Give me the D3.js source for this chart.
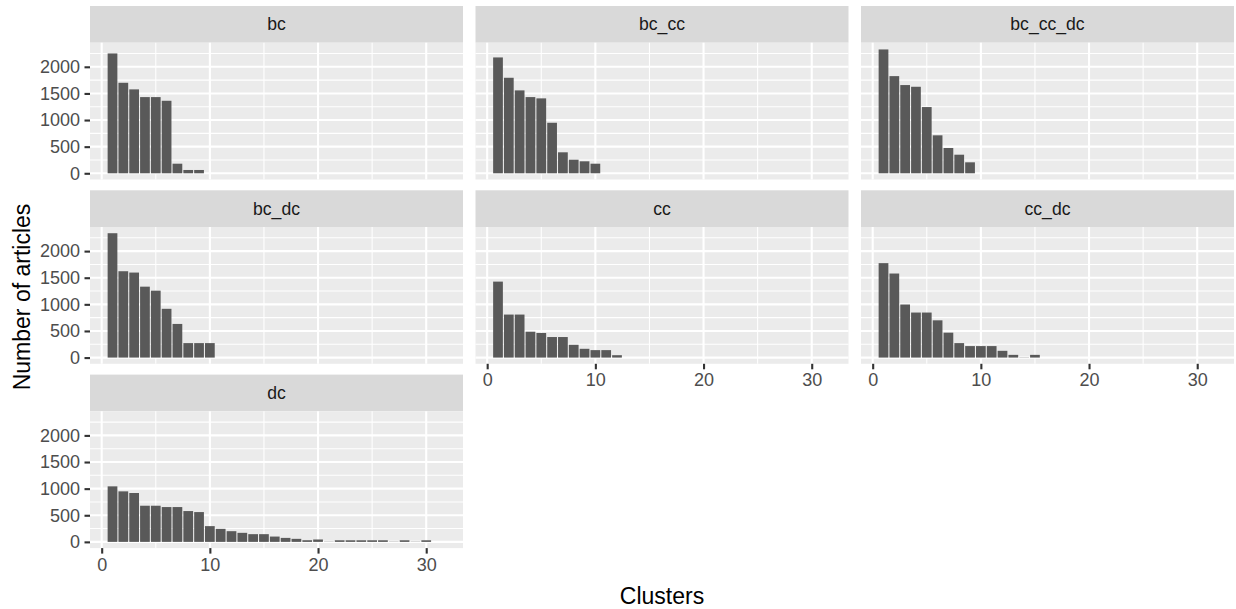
<!DOCTYPE html>
<html>
<head>
<meta charset="utf-8">
<script src="https://cdn.jsdelivr.net/npm/d3@7"></script>
<style>
  html, body { margin: 0; padding: 0; background: #ffffff; }
  svg { display: block; }
  text { font-family: "Liberation Sans", Arial, sans-serif; }
</style>
</head>
<body>
<svg id="chart" width="1236" height="609"></svg>
<script>
// Facet names, in layout order (three per row)
const facetNames = ["bc", "bc_cc", "bc_cc_dc", "bc_dc", "cc", "cc_dc", "dc"];

// Number of articles per cluster (cluster 1, 2, 3, ...) for each method
const bcCounts      = [2251, 1700, 1576, 1431, 1431, 1362, 180, 62, 62];
const bcCcCounts    = [2176, 1794, 1557, 1431, 1407, 949, 394, 255, 225, 180];
const bcCcDcCounts  = [2326, 1825, 1657, 1625, 1244, 713, 475, 349, 206];
const bcDcCounts    = [2336, 1622, 1597, 1332, 1257, 916, 632, 272, 272, 272];
const ccCounts      = [1427, 808, 808, 486, 462, 386, 386, 240, 165, 140, 140, 45];
const ccDcCounts    = [1774, 1579, 997, 846, 846, 700, 468, 272, 216, 216, 216, 127, 51, 4, 51];
const dcCounts      = [1043, 949, 918, 679, 679, 654, 654, 579, 560, 296, 245, 201, 170, 145, 145,
                       100, 75, 57, 31, 45, 4, 30, 30, 30, 30, 30, 4, 30, 4, 30];

// Axis breaks
const xMajorTicks = [0, 10, 20, 30];
const xMinorTicks = [5, 15, 25];
const yMajorTicks = [0, 500, 1000, 1500, 2000];
const yMinorTicks = [250, 750, 1250, 1750, 2250];
const xLimits = [-1.08, 33.4];

const facetCounts = [bcCounts, bcCcCounts, bcCcDcCounts, bcDcCounts, ccCounts, ccDcCounts, dcCounts];

const facets = facetNames.map((name, i) => ({
  name,
  bars: facetCounts[i].map((n, k) => ({ cluster: k + 1, n }))
}));

// Layout
const nCols = 3;
const panelLeft = [90, 475.5, 861];
const panelW = 373;
const stripTop0 = 6, stripH = 36.7, panelH = 136.8, rowGap = 10.8;
const rowPitch = stripH + panelH + rowGap;

const svg = d3.select("#chart");

const yMax = d3.max(facetCounts.flat());
const y = d3.scaleLinear()
  .domain([-0.05 * yMax, 1.05 * yMax])
  .range([panelH, 0]);
const x = d3.scaleLinear()
  .domain(xLimits)
  .range([0, panelW]);

const barWidth = 0.9;
const tickFont = 18;

facets.forEach((f, i) => {
  const col = i % nCols, row = Math.floor(i / nCols);
  const top = stripTop0 + row * rowPitch;
  const g = svg.append("g").attr("transform", `translate(${panelLeft[col]},${top})`);

  // strip
  g.append("rect").attr("width", panelW).attr("height", stripH).attr("fill", "#D9D9D9");
  g.append("text")
    .attr("x", panelW / 2).attr("y", stripH / 2)
    .attr("text-anchor", "middle").attr("dominant-baseline", "central")
    .attr("font-size", 17.6).attr("fill", "#1A1A1A")
    .text(f.name);

  const p = g.append("g").attr("transform", `translate(0,${stripH})`);
  p.append("rect").attr("width", panelW).attr("height", panelH).attr("fill", "#EBEBEB");

  // grid
  p.selectAll(".ymin").data(yMinorTicks).join("line")
    .attr("x1", 0).attr("x2", panelW).attr("y1", d => y(d)).attr("y2", d => y(d))
    .attr("stroke", "#ffffff").attr("stroke-width", 1.07);
  p.selectAll(".xmin").data(xMinorTicks).join("line")
    .attr("y1", 0).attr("y2", panelH).attr("x1", d => x(d)).attr("x2", d => x(d))
    .attr("stroke", "#ffffff").attr("stroke-width", 1.07);
  p.selectAll(".ymaj").data(yMajorTicks).join("line")
    .attr("x1", 0).attr("x2", panelW).attr("y1", d => y(d)).attr("y2", d => y(d))
    .attr("stroke", "#ffffff").attr("stroke-width", 2.1);
  p.selectAll(".xmaj").data(xMajorTicks).join("line")
    .attr("y1", 0).attr("y2", panelH).attr("x1", d => x(d)).attr("x2", d => x(d))
    .attr("stroke", "#ffffff").attr("stroke-width", 2.1);

  // bars
  p.selectAll(".bar").data(f.bars).join("rect")
    .attr("x", d => x(d.cluster - barWidth / 2))
    .attr("width", d => x(d.cluster + barWidth / 2) - x(d.cluster - barWidth / 2))
    .attr("y", d => y(d.n))
    .attr("height", d => y(0) - y(d.n))
    .attr("fill", "#595959");

  // y axis on first column
  if (col === 0) {
    const ya = p.append("g").call(d3.axisLeft(y).tickValues(yMajorTicks).tickSize(5.5).tickPadding(4.4).tickFormat(d3.format("d")));
    ya.select(".domain").remove();
    ya.selectAll("line").attr("stroke", "#333333").attr("stroke-width", 2.1);
    ya.selectAll("text").attr("font-size", tickFont).attr("fill", "#4D4D4D")
      .attr("font-family", "Liberation Sans, Arial, sans-serif");
  }

  // x axis where nothing sits below the panel
  const below = i + nCols;
  if (below >= facets.length) {
    const xa = p.append("g").attr("transform", `translate(0,${panelH})`)
      .call(d3.axisBottom(x).tickValues(xMajorTicks).tickSize(5.5).tickPadding(4.4).tickFormat(d3.format("d")));
    xa.select(".domain").remove();
    xa.selectAll("line").attr("stroke", "#333333").attr("stroke-width", 2.1);
    xa.selectAll("text").attr("font-size", tickFont).attr("fill", "#4D4D4D")
      .attr("font-family", "Liberation Sans, Arial, sans-serif");
  }
});

// axis titles
svg.append("text")
  .attr("transform", "translate(22,297) rotate(-90)")
  .attr("text-anchor", "middle").attr("dominant-baseline", "central")
  .attr("font-size", 23).attr("fill", "#000000")
  .text("Number of articles");
svg.append("text")
  .attr("x", (panelLeft[0] + panelLeft[2] + panelW) / 2).attr("y", 596)
  .attr("text-anchor", "middle").attr("dominant-baseline", "central")
  .attr("font-size", 23).attr("fill", "#000000")
  .text("Clusters");
</script>
</body>
</html>
